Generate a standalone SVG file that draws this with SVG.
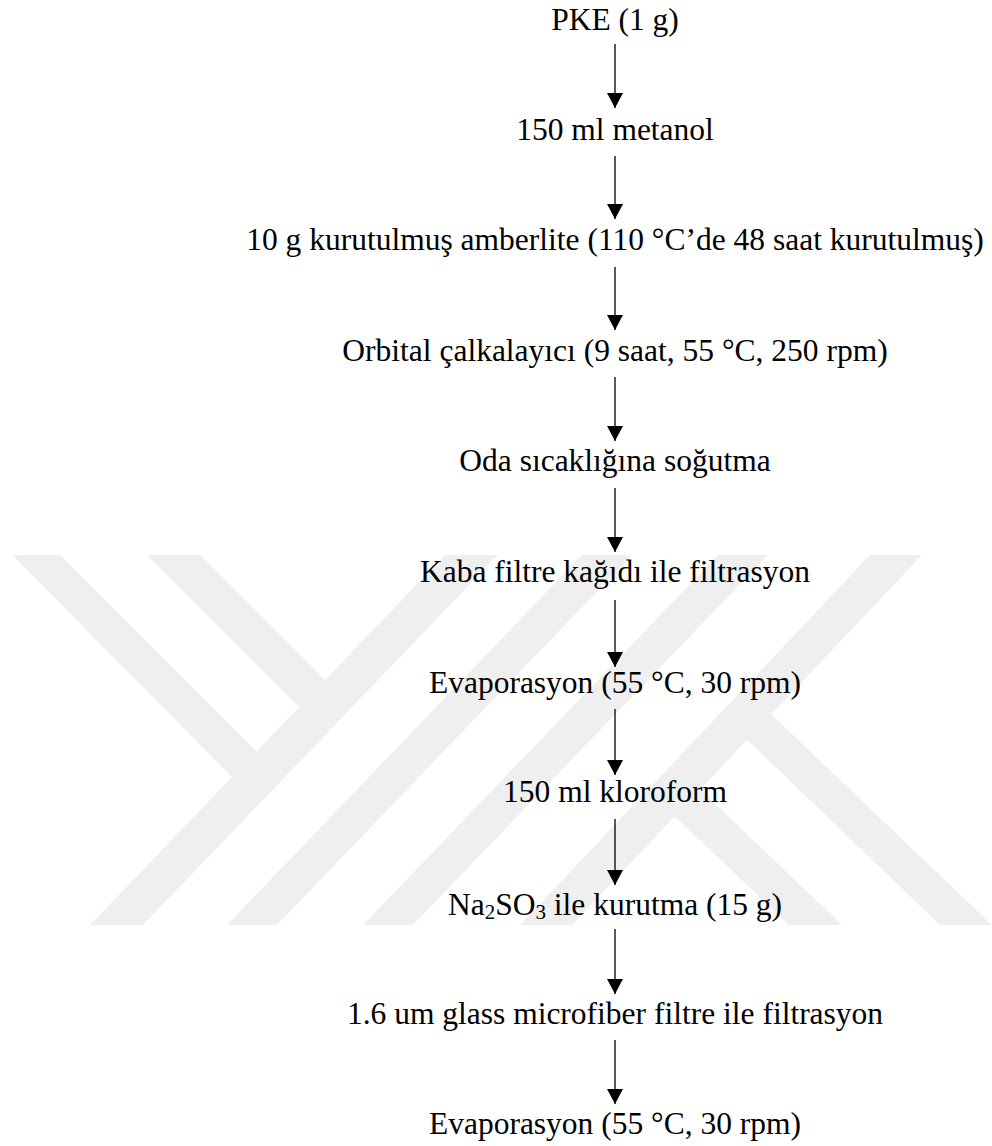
<svg xmlns="http://www.w3.org/2000/svg" width="992" height="1146" viewBox="0 0 992 1146">
<defs>
<style>
.t{font-family:"Liberation Serif","Times New Roman",serif;font-size:31.5px;fill:#000;text-anchor:middle}
.c{stroke:#000;stroke-width:1.3;fill:none}
.wm{fill:#efefef;stroke:none}
</style>
<marker id="ah" viewBox="0 0 15 16" refX="15" refY="8" markerWidth="15" markerHeight="16" markerUnits="userSpaceOnUse" orient="auto">
<path d="M0,0 L15,8 L0,16 Z" fill="#000"/>
</marker>
</defs>
<rect width="992" height="1146" fill="#fff"/>
<g id="watermark" class="wm">
<polygon points="90,925 143,925 498,555 445,555"/>
<polygon points="12,555 60,555 270,765 245,790"/>
<polygon points="147,555 200,555 335,690 312,720"/>
<polygon points="227,925 277,925 632,555 582,555"/>
<polygon points="363,925 413,925 768,555 718,555"/>
<polygon points="520,925 572,925 922,555 870,555"/>
<polygon points="746,690 992,925 940,925 740,733"/>
<polygon points="685,775 842,925 789,925 663,805"/>
</g>
<g id="connectors">
<path class="c" d="M615,44 V108" marker-end="url(#ah)"/>
<path class="c" d="M615,156 V219" marker-end="url(#ah)"/>
<path class="c" d="M615,267 V330" marker-end="url(#ah)"/>
<path class="c" d="M615,377 V441" marker-end="url(#ah)"/>
<path class="c" d="M615,488 V552" marker-end="url(#ah)"/>
<path class="c" d="M615,600 V667" marker-end="url(#ah)"/>
<path class="c" d="M615,709 V775" marker-end="url(#ah)"/>
<path class="c" d="M615,819 V885" marker-end="url(#ah)"/>
<path class="c" d="M615,929 V994" marker-end="url(#ah)"/>
<path class="c" d="M615,1040 V1104" marker-end="url(#ah)"/>
</g>
<g id="n1"><text class="t" x="615" y="29.5">PKE (1 g)</text></g>
<g id="n2"><text class="t" x="615" y="140">150 ml metanol</text></g>
<g id="n3"><text class="t" x="615" y="250">10 g kurutulmuş amberlite (110 °C’de 48 saat kurutulmuş)</text></g>
<g id="n4"><text class="t" x="615" y="361">Orbital çalkalayıcı (9 saat, 55 °C, 250 rpm)</text></g>
<g id="n5"><text class="t" x="615" y="471">Oda sıcaklığına soğutma</text></g>
<g id="n6"><text class="t" x="615" y="582">Kaba filtre kağıdı ile filtrasyon</text></g>
<g id="n7"><text class="t" x="615" y="693">Evaporasyon (55 °C, 30 rpm)</text></g>
<g id="n8"><text class="t" x="615" y="802">150 ml kloroform</text></g>
<g id="n9"><text class="t" x="615" y="915">Na<tspan font-size="21" dy="4">2</tspan><tspan dy="-4">SO</tspan><tspan font-size="21" dy="4">3</tspan><tspan dy="-4"> ile kurutma (15 g)</tspan></text></g>
<g id="n10"><text class="t" x="615" y="1024">1.6 um glass microfiber filtre ile filtrasyon</text></g>
<g id="n11"><text class="t" x="615" y="1134">Evaporasyon (55 °C, 30 rpm)</text></g>
</svg>
